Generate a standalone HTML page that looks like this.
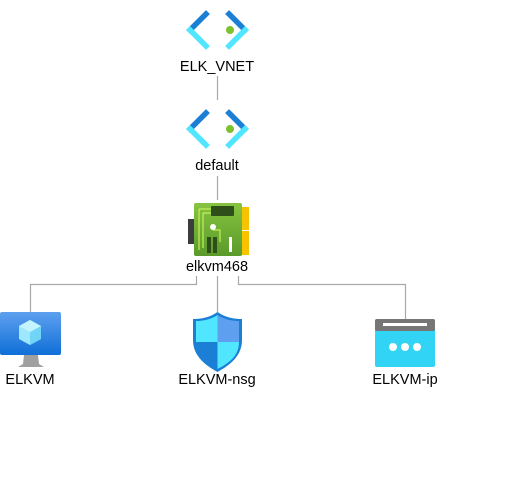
<!DOCTYPE html>
<html><head><style>
body{margin:0;background:#fff;width:517px;height:490px;overflow:hidden;font-family:"Liberation Sans",Arial,sans-serif}
.t{position:absolute;font-size:14.5px;color:#000;transform:translateX(-50%);white-space:nowrap}
</style></head><body>
<svg width="517" height="490" style="position:absolute;left:0;top:0">
<defs>
<linearGradient id="mon" x1="0" y1="0" x2="0" y2="1"><stop offset="0" stop-color="#5ea0ef"/><stop offset="1" stop-color="#0f6fd8"/></linearGradient>
<linearGradient id="nic" x1="0" y1="0" x2="0" y2="1"><stop offset="0" stop-color="#86c440"/><stop offset="1" stop-color="#5a9a2a"/></linearGradient>
<g id="vnet">
<line x1="20" y1="-16" x2="4" y2="0" stroke="#1b7fd6" stroke-width="5.5" stroke-linecap="square"/>
<line x1="4" y1="0" x2="20" y2="16" stroke="#50e6ff" stroke-width="5.5" stroke-linecap="square"/>
<line x1="43" y1="-16" x2="59" y2="0" stroke="#1b7fd6" stroke-width="5.5" stroke-linecap="square"/>
<line x1="59" y1="0" x2="43" y2="16" stroke="#50e6ff" stroke-width="5.5" stroke-linecap="square"/>
<circle cx="44" cy="0" r="4" fill="#7cc12e"/>
</g>
</defs>
<g stroke="#aaa" stroke-width="1.2" fill="none">
<line x1="217.5" y1="76" x2="217.5" y2="100"/>
<line x1="217.5" y1="176" x2="217.5" y2="200"/>
<polyline points="196.5,276 196.5,284.5 30.5,284.5 30.5,312"/>
<polyline points="238.5,276 238.5,284.5 405.5,284.5 405.5,319"/>
<line x1="217.5" y1="276" x2="217.5" y2="312"/>
</g>
<use href="#vnet" x="186" y="30"/>
<use href="#vnet" x="186" y="129"/>
<!-- NIC -->
<rect x="188" y="219" width="6" height="25" fill="#3c3c3c"/>
<rect x="242" y="207" width="7" height="23" fill="#f7c200"/>
<rect x="242" y="231" width="7" height="24" fill="#f7c200"/>
<rect x="194" y="203" width="48" height="53" rx="2" fill="url(#nic)"/>
<path d="M199,209 L222,209 M199,209 L199,250 M203,213 L203,248 M203,213 L220,213 M213,230 L220,230 L220,242" stroke="#c4ee5a" stroke-width="1.2" fill="none"/>
<rect x="211" y="206" width="23" height="10" rx="1" fill="#2f4f1a"/>
<circle cx="213" cy="227" r="3" fill="#fff"/>
<rect x="207" y="237" width="4" height="16" fill="#2f4f1a"/>
<rect x="213" y="237" width="4" height="16" fill="#2f4f1a"/>
<rect x="229" y="237" width="3" height="15" fill="#fff"/>
<!-- monitor -->
<rect x="0" y="312" width="61" height="43" rx="2" fill="url(#mon)"/>
<path d="M24,355 L38,355 L39,364 L44,367 L18,367 L23,364 Z" fill="#a0a0a0"/>
<path d="M30,320 L41,326 L41,339 L30,345 L19,339 L19,326 Z" fill="#9ee8ff"/>
<path d="M30,332 L41,326 L41,339 L30,345 Z" fill="#6fd4f5"/>
<path d="M19,326 L30,320 L41,326 L30,332 Z" fill="#c4f4ff"/>
<!-- shield -->
<path d="M217.5,312 C209,318 200,319 193,319 L193,340 C193,356 205,365 217.5,372 C230,365 242,356 242,340 L242,319 C235,319 226,318 217.5,312 Z" fill="#1b7fd6"/>
<path d="M217.5,315 C210,320 202,321 196,321 L196,342 L217.5,342 Z" fill="#50e6ff"/>
<path d="M217.5,342 L239,342 C239,356 229,363 217.5,369 Z" fill="#50e6ff"/>
<path d="M217.5,315 C225,320 233,321 239,321 L239,342 L217.5,342 Z" fill="#5ea0ef"/>
<!-- ip -->
<rect x="375" y="319" width="60" height="48" rx="2" fill="#32d4f5"/>
<rect x="375" y="319" width="60" height="12" rx="2" fill="#767676"/>
<rect x="383" y="323" width="44" height="3" fill="#fff"/>
<circle cx="393" cy="347" r="4" fill="#fff"/>
<circle cx="405" cy="347" r="4" fill="#fff"/>
<circle cx="417" cy="347" r="4" fill="#fff"/>
</svg>
<div class="t" style="left:217px;top:59px">ELK_VNET</div>
<div class="t" style="left:217px;top:158px">default</div>
<div class="t" style="left:217px;top:259px">elkvm468</div>
<div class="t" style="left:30px;top:372px">ELKVM</div>
<div class="t" style="left:217px;top:372px">ELKVM-nsg</div>
<div class="t" style="left:405px;top:372px">ELKVM-ip</div>
</body></html>
